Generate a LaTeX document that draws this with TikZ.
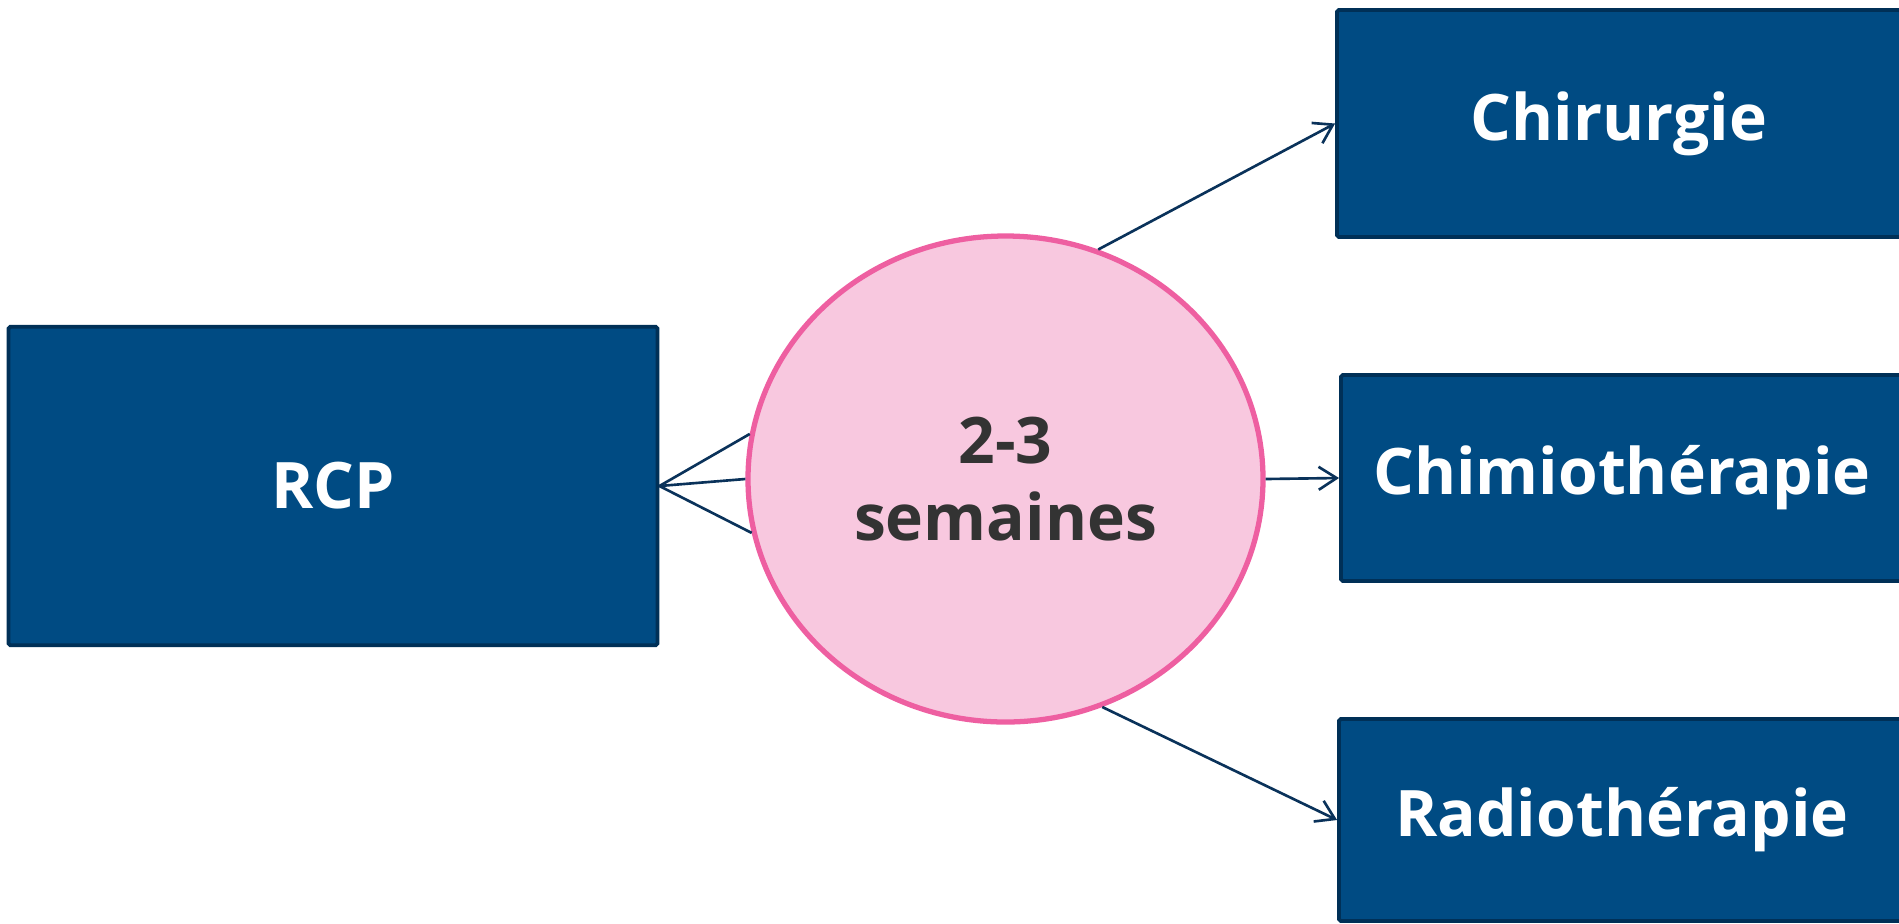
\documentclass[tikz,border=0pt]{standalone}
\usepackage{fontspec}
\setmainfont{Open Sans}
\usepackage{tikz}
\usetikzlibrary{shapes.geometric,arrows.meta}

\definecolor{boxblue}{RGB}{0,75,131}
\definecolor{boxline}{RGB}{0,48,87}
\definecolor{pinkfill}{RGB}{248,200,223}
\definecolor{pinkline}{RGB}{238,95,161}
\definecolor{textgray}{RGB}{51,51,51}
\definecolor{linkcol}{RGB}{10,50,90}

\tikzset{
  bluebox/.style={rectangle,draw=boxline,fill=boxblue,line width=2.2pt,rounded corners=1pt,
    text=white,font=\fontsize{36.5}{43.5}\selectfont\bfseries,inner sep=0pt},
  delay/.style={ellipse,draw=pinkline,fill=pinkfill,line width=3pt,inner sep=0pt,
    text=textgray,font=\fontsize{36.5}{43.5}\selectfont\bfseries,align=center,
    minimum width=10.3cm,minimum height=9.72cm},
  link/.style={draw=linkcol,line width=1.5pt},
  linkarrow/.style={link,-{Straight Barb[length=0.36cm,width=0.46cm,line width=1.5pt]}}
}

\begin{document}
\begin{tikzpicture}
\useasboundingbox (0,0) rectangle (37.98,-18.46);
\clip (0,0) rectangle (37.98,-18.46);
% nodes
\node[bluebox,minimum width=12.98cm,minimum height=6.37cm](rcp)at(6.66,-9.72){RCP};
\node[delay](delai)at(20.11,-9.58){2-3\\semaines};
\node[bluebox,minimum width=11.28cm,minimum height=4.54cm](chir)at(32.38,-2.47){Chirurgie};
\node[bluebox,minimum width=11.24cm,minimum height=4.12cm](chimio)at(32.44,-9.56){Chimiothérapie};
\node[bluebox,minimum width=11.32cm,minimum height=4.04cm](radio)at(32.44,-16.4){Radiothérapie};
% crow's foot
\draw[link](rcp.east)--(delai.170);
\draw[link](rcp.east)--(delai.180);
\draw[link](rcp.east)--(delai.192);
% arrows
\draw[linkarrow](delai.68)--(chir.west);
\draw[linkarrow](delai.0)--(chimio.west);
\draw[linkarrow](delai.-67)--(radio.west);
\end{tikzpicture}
\end{document}
